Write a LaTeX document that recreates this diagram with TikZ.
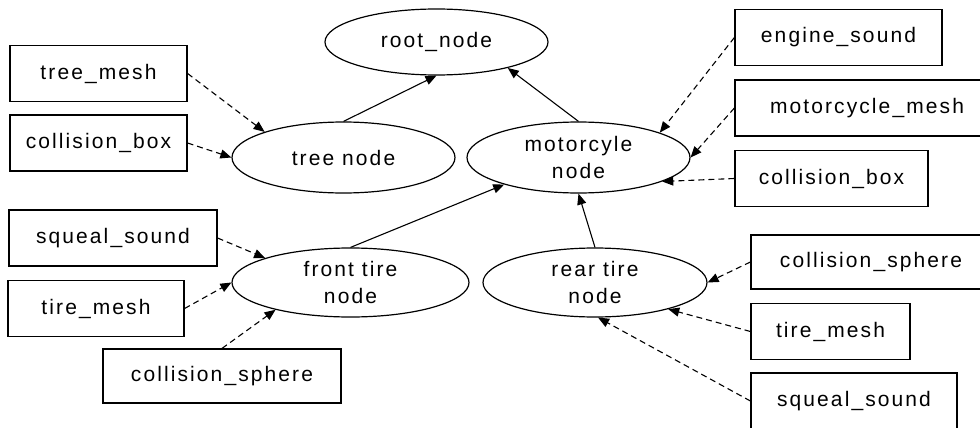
\documentclass[tikz,border=0pt]{standalone}
\usepackage{fontspec}
\setmainfont{Liberation Sans}[LetterSpace=10]
\usetikzlibrary{shapes.geometric}
\usetikzlibrary{arrows.meta}

\begin{document}
\begin{tikzpicture}[x=1pt, y=-1pt,
  every node/.style={font=\fontsize{21}{27.5}\selectfont},
  scene/.style={draw, ellipse, line width=1.2pt, inner sep=-3pt, align=center},
  asset/.style={draw, rectangle, line width=1.2pt, inner sep=0pt, minimum height=56pt},
  link/.style={line width=1.1pt, -{Triangle[length=11pt,width=9pt]}},
  dep/.style={link, dash pattern=on 6pt off 4pt}]
  \useasboundingbox (0,0) rectangle (980,428);

  \node[scene, minimum width=223pt, minimum height=66pt] (rootnode) at (436.5,42) {root\_node};
  \node[scene, minimum width=223pt, minimum height=71pt] (treenode) at (343.5,157.5) {tree node};
  \node[scene, minimum width=223pt, minimum height=71pt] (motonode) at (578.5,157.5) {motorcyle\\node};
  \node[scene, minimum width=237pt, minimum height=69pt] (frontnode) at (350.5,282.5) {front tire\\node};
  \node[scene, minimum width=224pt, minimum height=69pt] (rearnode) at (595,282.5) {rear tire\\node};

  \node[asset, minimum width=177pt] (treemesh) at (98.5,73.5) {tree\_mesh};
  \node[asset, minimum width=177pt] (treebox) at (98.5,143) {collision\_box};
  \node[asset, minimum width=207pt] (enginesound) at (838.5,37.5) {engine\_sound};
  \node[asset, minimum width=264pt] (motomesh) at (867,108) {motorcycle\_mesh};
  \node[asset, minimum width=193pt] (motobox) at (831.5,178.5) {collision\_box};
  \node[asset, minimum width=208pt] (frontsqueal) at (113,238) {squeal\_sound};
  \node[asset, minimum width=176pt] (frontmesh) at (96,308.5) {tire\_mesh};
  \node[asset, minimum width=238pt, minimum height=54pt] (frontsphere) at (222,376) {collision\_sphere};
  \node[asset, minimum width=240pt, minimum height=54pt] (rearsphere) at (871,262) {collision\_sphere};
  \node[asset, minimum width=159pt] (rearmesh) at (830.5,331.5) {tire\_mesh};
  \node[asset, minimum width=206pt] (rearsqueal) at (854,401) {squeal\_sound};

  \draw[link] (treenode.north) -- (rootnode.south);
  \draw[link] (motonode.north) -- (rootnode.-20);
  \draw[link] (frontnode.north) -- (motonode.200);
  \draw[link] (rearnode.north) -- (motonode.south);

  \draw[dep] (treemesh.east) -- (treenode.162);
  \draw[dep] (treebox.east) -- (treenode.west);
  \draw[dep] (enginesound.west) -- (motonode.17);
  \draw[dep] (motomesh.west) -- (motonode.east);
  \draw[dep] (motobox.west) -- (motonode.-16);
  \draw[dep] (frontsqueal.east) -- (frontnode.164);
  \draw[dep] (frontmesh.east) -- (frontnode.west);
  \draw[dep] (frontsphere.north) -- (frontnode.-160);
  \draw[dep] (rearsphere.west) -- (rearnode.east);
  \draw[dep] (rearmesh.west) -- (rearnode.-20);
  \draw[dep] (rearsqueal.west) -- (rearnode.-85);
\end{tikzpicture}
\end{document}
